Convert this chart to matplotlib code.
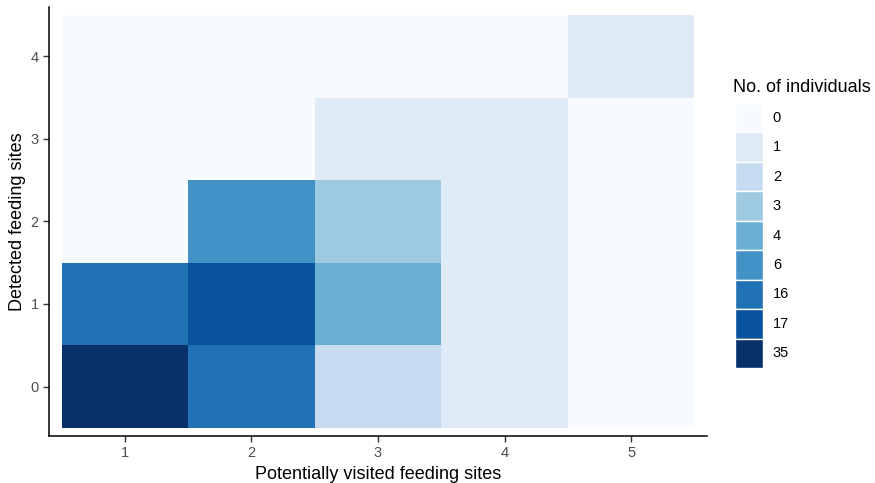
import numpy as np
import matplotlib.pyplot as plt
from matplotlib.colors import ListedColormap, BoundaryNorm

plt.rcParams['font.family'] = ['Liberation Sans', 'DejaVu Sans']

# Counts of individuals per (potentially visited, detected) feeding-site pair
visited = [1, 2, 3, 4, 5]
detected = [0, 1, 2, 3, 4]
counts = [
    [35, 16, 2, 1, 0],   # detected = 0
    [16, 17, 4, 1, 0],   # detected = 1
    [0, 6, 3, 1, 0],     # detected = 2
    [0, 0, 1, 1, 0],     # detected = 3
    [0, 0, 0, 0, 1],     # detected = 4
]
levels = [0, 1, 2, 3, 4, 6, 16, 17, 35]
palette = ['#f7fbff', '#deebf7', '#c6dbef', '#9ecae1', '#6baed6',
           '#4292c6', '#2171b5', '#08519c', '#08306b']

W, H = 875, 483
fig = plt.figure(figsize=(W / 100, H / 100), dpi=100)


def px_axes(x0, y0, x1, y1):
    return fig.add_axes([x0 / W, 1 - y1 / H, (x1 - x0) / W, (y1 - y0) / H])


ax = px_axes(49, 7, 707, 436)

# Counts are treated as discrete classes, one colour per observed value
idx = np.array([[levels.index(v) for v in row] for row in counts])
cmap = ListedColormap(palette)
norm = BoundaryNorm(np.arange(len(levels) + 1) - 0.5, cmap.N)
xe = np.append(np.array(visited) - 0.5, visited[-1] + 0.5)
ye = np.append(np.array(detected) - 0.5, detected[-1] + 0.5)
ax.pcolormesh(xe, ye, idx, cmap=cmap, norm=norm)

ax.set_xlim(0.4, 5.6)
ax.set_ylim(-0.6, 4.6)
ax.set_xticks(visited)
ax.set_yticks(detected)
for side in ['top', 'right']:
    ax.spines[side].set_visible(False)
for side in ['left', 'bottom']:
    ax.spines[side].set_linewidth(1.1)
    ax.spines[side].set_color('black')
ax.tick_params(colors='#333333', labelcolor='#4d4d4d', labelsize=10.5,
               length=4, width=1)
ax.set_xlabel('Potentially visited feeding sites', fontsize=13,
              labelpad=4)
ax.set_ylabel('Detected feeding sites', fontsize=13, labelpad=3)

# Legend keys drawn as a stacked column of the class colours
lax = px_axes(735, 103, 763, 368)
n = len(levels)
lax.barh(np.arange(n), np.ones(n), height=1.0, color=palette,
         edgecolor='white', linewidth=1.0)
lax.set_xlim(0, 1)
lax.set_ylim(n - 0.5, -0.5)
lax.axis('off')
for i, lv in enumerate(levels):
    lax.text(1.35, i, str(lv), va='center', ha='left', fontsize=10.5,
             color='black', transform=lax.transData, clip_on=False)
fig.text(733 / W, 1 - 87 / H, 'No. of individuals', fontsize=13,
         va='center', ha='left')

fig.savefig('out.png', dpi=100)
